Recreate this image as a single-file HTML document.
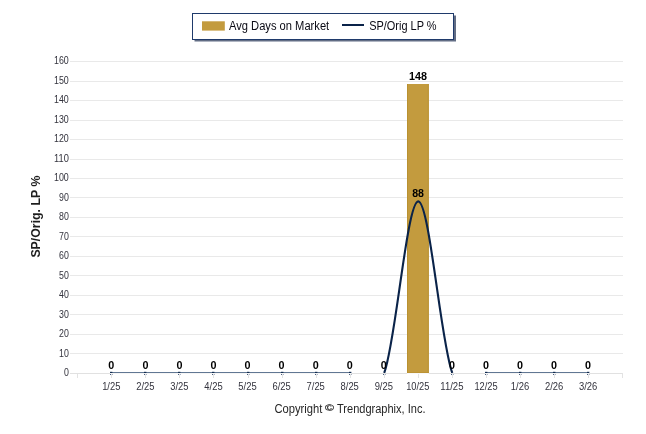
<!DOCTYPE html>
<html><head><meta charset="utf-8"><title>Chart</title>
<style>
html,body{margin:0;padding:0;background:#fff;}
body{width:646px;height:434px;overflow:hidden;}
svg{display:block;font-family:"Liberation Sans",sans-serif;}
.yl{font-size:10.6px;fill:#33333d;text-anchor:end;}
.xl{font-size:11px;fill:#33333d;text-anchor:middle;}
.dl{font-size:11px;font-weight:bold;fill:#000;text-anchor:middle;}
.lg{font-size:12px;fill:#0a0a14;}
</style></head><body>
<svg width="646" height="434" viewBox="0 0 646 434">
<defs><clipPath id="pc"><rect x="70" y="50" width="553" height="323"/></clipPath>
<filter id="sh" x="-5%" y="-20%" width="110%" height="150%"><feGaussianBlur stdDeviation="0.7"/></filter></defs>
<rect width="646" height="434" fill="#fff"/>

<rect x="70" y="373" width="553" height="1" fill="#e1e1e1"/>
<text class="yl" x="68.8" y="376" textLength="4.9" lengthAdjust="spacingAndGlyphs">0</text>
<rect x="70" y="353" width="553" height="1" fill="#e9e9e9"/>
<text class="yl" x="68.8" y="357" textLength="9.8" lengthAdjust="spacingAndGlyphs">10</text>
<rect x="70" y="334" width="553" height="1" fill="#e9e9e9"/>
<text class="yl" x="68.8" y="337" textLength="9.8" lengthAdjust="spacingAndGlyphs">20</text>
<rect x="70" y="314" width="553" height="1" fill="#e9e9e9"/>
<text class="yl" x="68.8" y="318" textLength="9.8" lengthAdjust="spacingAndGlyphs">30</text>
<rect x="70" y="295" width="553" height="1" fill="#e9e9e9"/>
<text class="yl" x="68.8" y="298" textLength="9.8" lengthAdjust="spacingAndGlyphs">40</text>
<rect x="70" y="275" width="553" height="1" fill="#e9e9e9"/>
<text class="yl" x="68.8" y="279" textLength="9.8" lengthAdjust="spacingAndGlyphs">50</text>
<rect x="70" y="256" width="553" height="1" fill="#e9e9e9"/>
<text class="yl" x="68.8" y="259" textLength="9.8" lengthAdjust="spacingAndGlyphs">60</text>
<rect x="70" y="236" width="553" height="1" fill="#e9e9e9"/>
<text class="yl" x="68.8" y="240" textLength="9.8" lengthAdjust="spacingAndGlyphs">70</text>
<rect x="70" y="217" width="553" height="1" fill="#e9e9e9"/>
<text class="yl" x="68.8" y="220" textLength="9.8" lengthAdjust="spacingAndGlyphs">80</text>
<rect x="70" y="197" width="553" height="1" fill="#e9e9e9"/>
<text class="yl" x="68.8" y="201" textLength="9.8" lengthAdjust="spacingAndGlyphs">90</text>
<rect x="70" y="178" width="553" height="1" fill="#e9e9e9"/>
<text class="yl" x="68.8" y="181" textLength="14.8" lengthAdjust="spacingAndGlyphs">100</text>
<rect x="70" y="159" width="553" height="1" fill="#e9e9e9"/>
<text class="yl" x="68.8" y="162" textLength="14.8" lengthAdjust="spacingAndGlyphs">110</text>
<rect x="70" y="139" width="553" height="1" fill="#e9e9e9"/>
<text class="yl" x="68.8" y="142" textLength="14.8" lengthAdjust="spacingAndGlyphs">120</text>
<rect x="70" y="120" width="553" height="1" fill="#e9e9e9"/>
<text class="yl" x="68.8" y="123" textLength="14.8" lengthAdjust="spacingAndGlyphs">130</text>
<rect x="70" y="100" width="553" height="1" fill="#e9e9e9"/>
<text class="yl" x="68.8" y="103" textLength="14.8" lengthAdjust="spacingAndGlyphs">140</text>
<rect x="70" y="81" width="553" height="1" fill="#e9e9e9"/>
<text class="yl" x="68.8" y="84" textLength="14.8" lengthAdjust="spacingAndGlyphs">150</text>
<rect x="70" y="61" width="553" height="1" fill="#e9e9e9"/>
<text class="yl" x="68.8" y="64" textLength="14.8" lengthAdjust="spacingAndGlyphs">160</text>
<rect x="77" y="374" width="1" height="4" fill="#e3e3e3"/>
<rect x="111" y="374" width="1" height="4" fill="#e3e3e3"/>
<rect x="145" y="374" width="1" height="4" fill="#e3e3e3"/>
<rect x="179" y="374" width="1" height="4" fill="#e3e3e3"/>
<rect x="213" y="374" width="1" height="4" fill="#e3e3e3"/>
<rect x="248" y="374" width="1" height="4" fill="#e3e3e3"/>
<rect x="282" y="374" width="1" height="4" fill="#e3e3e3"/>
<rect x="316" y="374" width="1" height="4" fill="#e3e3e3"/>
<rect x="350" y="374" width="1" height="4" fill="#e3e3e3"/>
<rect x="384" y="374" width="1" height="4" fill="#e3e3e3"/>
<rect x="418" y="374" width="1" height="4" fill="#e3e3e3"/>
<rect x="452" y="374" width="1" height="4" fill="#e3e3e3"/>
<rect x="486" y="374" width="1" height="4" fill="#e3e3e3"/>
<rect x="520" y="374" width="1" height="4" fill="#e3e3e3"/>
<rect x="554" y="374" width="1" height="4" fill="#e3e3e3"/>
<rect x="588" y="374" width="1" height="4" fill="#e3e3e3"/>
<rect x="622" y="374" width="1" height="4" fill="#e3e3e3"/>
<rect x="622" y="373" width="1" height="5" fill="#e3e3e3"/>
<rect x="407" y="84" width="21.8" height="289" fill="#c39b3e"/>
<rect x="407" y="84" width="1" height="289" fill="#b78e2e" opacity="0.8"/>
<rect x="407" y="373" width="21.8" height="1" fill="#f8f8f8"/>
<rect x="407" y="372" width="21.8" height="1" fill="#b78e2e" opacity="0.6"/>
<rect x="427.8" y="84" width="1" height="289" fill="#b78e2e" opacity="0.8"/>
<rect x="110" y="373" width="241" height="1" fill="#f6f6f6"/>
<rect x="110" y="372" width="241" height="1" fill="#617793"/>
<rect x="485" y="373" width="104" height="1" fill="#f6f6f6"/>
<rect x="485" y="372" width="104" height="1" fill="#617793"/>
<rect x="110" y="371.8" width="2.4" height="1.2" fill="#0a2349" opacity="0.9"/>
<rect x="144" y="371.8" width="2.4" height="1.2" fill="#0a2349" opacity="0.9"/>
<rect x="178" y="371.8" width="2.4" height="1.2" fill="#0a2349" opacity="0.9"/>
<rect x="212" y="371.8" width="2.4" height="1.2" fill="#0a2349" opacity="0.9"/>
<rect x="247" y="371.8" width="2.4" height="1.2" fill="#0a2349" opacity="0.9"/>
<rect x="281" y="371.8" width="2.4" height="1.2" fill="#0a2349" opacity="0.9"/>
<rect x="315" y="371.8" width="2.4" height="1.2" fill="#0a2349" opacity="0.9"/>
<rect x="349" y="371.8" width="2.4" height="1.2" fill="#0a2349" opacity="0.9"/>
<rect x="485" y="371.8" width="2.4" height="1.2" fill="#0a2349" opacity="0.9"/>
<rect x="519" y="371.8" width="2.4" height="1.2" fill="#0a2349" opacity="0.9"/>
<rect x="553" y="371.8" width="2.4" height="1.2" fill="#0a2349" opacity="0.9"/>
<rect x="587" y="371.8" width="2.4" height="1.2" fill="#0a2349" opacity="0.9"/>
<rect x="110" y="374" width="1" height="1" fill="#4a5f80"/>
<rect x="112" y="374" width="1" height="1" fill="#aab4c4"/>
<rect x="144" y="374" width="1" height="1" fill="#4a5f80"/>
<rect x="146" y="374" width="1" height="1" fill="#aab4c4"/>
<rect x="178" y="374" width="1" height="1" fill="#4a5f80"/>
<rect x="180" y="374" width="1" height="1" fill="#aab4c4"/>
<rect x="212" y="374" width="1" height="1" fill="#4a5f80"/>
<rect x="214" y="374" width="1" height="1" fill="#aab4c4"/>
<rect x="247" y="374" width="1" height="1" fill="#4a5f80"/>
<rect x="249" y="374" width="1" height="1" fill="#aab4c4"/>
<rect x="281" y="374" width="1" height="1" fill="#4a5f80"/>
<rect x="283" y="374" width="1" height="1" fill="#aab4c4"/>
<rect x="315" y="374" width="1" height="1" fill="#4a5f80"/>
<rect x="317" y="374" width="1" height="1" fill="#aab4c4"/>
<rect x="349" y="374" width="1" height="1" fill="#4a5f80"/>
<rect x="351" y="374" width="1" height="1" fill="#aab4c4"/>
<rect x="383" y="374" width="1" height="1" fill="#4a5f80"/>
<rect x="385" y="374" width="1" height="1" fill="#aab4c4"/>
<rect x="451" y="374" width="1" height="1" fill="#4a5f80"/>
<rect x="453" y="374" width="1" height="1" fill="#aab4c4"/>
<rect x="485" y="374" width="1" height="1" fill="#4a5f80"/>
<rect x="487" y="374" width="1" height="1" fill="#aab4c4"/>
<rect x="519" y="374" width="1" height="1" fill="#4a5f80"/>
<rect x="521" y="374" width="1" height="1" fill="#aab4c4"/>
<rect x="553" y="374" width="1" height="1" fill="#4a5f80"/>
<rect x="555" y="374" width="1" height="1" fill="#aab4c4"/>
<rect x="587" y="374" width="1" height="1" fill="#4a5f80"/>
<rect x="589" y="374" width="1" height="1" fill="#aab4c4"/>
<path d="M383.78,373.00 C395.13,344.40 406.49,201.40 417.84,201.40 C429.19,201.40 440.55,344.40 451.90,373.00" fill="none" stroke="#0a2349" stroke-width="2.1" transform="translate(0.4,0)" clip-path="url(#pc)"/>
<text class="dl" x="111.3" y="369" textLength="6" lengthAdjust="spacingAndGlyphs">0</text>
<text class="dl" x="145.4" y="369" textLength="6" lengthAdjust="spacingAndGlyphs">0</text>
<text class="dl" x="179.4" y="369" textLength="6" lengthAdjust="spacingAndGlyphs">0</text>
<text class="dl" x="213.5" y="369" textLength="6" lengthAdjust="spacingAndGlyphs">0</text>
<text class="dl" x="247.5" y="369" textLength="6" lengthAdjust="spacingAndGlyphs">0</text>
<text class="dl" x="281.6" y="369" textLength="6" lengthAdjust="spacingAndGlyphs">0</text>
<text class="dl" x="315.7" y="369" textLength="6" lengthAdjust="spacingAndGlyphs">0</text>
<text class="dl" x="349.7" y="369" textLength="6" lengthAdjust="spacingAndGlyphs">0</text>
<text class="dl" x="383.8" y="369" textLength="6" lengthAdjust="spacingAndGlyphs">0</text>
<text class="dl" x="451.9" y="369" textLength="6" lengthAdjust="spacingAndGlyphs">0</text>
<text class="dl" x="486.0" y="369" textLength="6" lengthAdjust="spacingAndGlyphs">0</text>
<text class="dl" x="520.0" y="369" textLength="6" lengthAdjust="spacingAndGlyphs">0</text>
<text class="dl" x="554.1" y="369" textLength="6" lengthAdjust="spacingAndGlyphs">0</text>
<text class="dl" x="588.1" y="369" textLength="6" lengthAdjust="spacingAndGlyphs">0</text>
<text class="dl" x="418.1" y="80" textLength="18" lengthAdjust="spacingAndGlyphs">148</text>
<text class="dl" x="418.1" y="197" textLength="11.8" lengthAdjust="spacingAndGlyphs">88</text>
<text class="xl" x="111.3" y="390" textLength="18.3" lengthAdjust="spacingAndGlyphs">1/25</text>
<text class="xl" x="145.4" y="390" textLength="18.3" lengthAdjust="spacingAndGlyphs">2/25</text>
<text class="xl" x="179.4" y="390" textLength="18.3" lengthAdjust="spacingAndGlyphs">3/25</text>
<text class="xl" x="213.5" y="390" textLength="18.3" lengthAdjust="spacingAndGlyphs">4/25</text>
<text class="xl" x="247.5" y="390" textLength="18.3" lengthAdjust="spacingAndGlyphs">5/25</text>
<text class="xl" x="281.6" y="390" textLength="18.3" lengthAdjust="spacingAndGlyphs">6/25</text>
<text class="xl" x="315.7" y="390" textLength="18.3" lengthAdjust="spacingAndGlyphs">7/25</text>
<text class="xl" x="349.7" y="390" textLength="18.3" lengthAdjust="spacingAndGlyphs">8/25</text>
<text class="xl" x="383.8" y="390" textLength="18.3" lengthAdjust="spacingAndGlyphs">9/25</text>
<text class="xl" x="417.8" y="390" textLength="23.2" lengthAdjust="spacingAndGlyphs">10/25</text>
<text class="xl" x="451.9" y="390" textLength="23.2" lengthAdjust="spacingAndGlyphs">11/25</text>
<text class="xl" x="486.0" y="390" textLength="23.2" lengthAdjust="spacingAndGlyphs">12/25</text>
<text class="xl" x="520.0" y="390" textLength="18.3" lengthAdjust="spacingAndGlyphs">1/26</text>
<text class="xl" x="554.1" y="390" textLength="18.3" lengthAdjust="spacingAndGlyphs">2/26</text>
<text class="xl" x="588.1" y="390" textLength="18.3" lengthAdjust="spacingAndGlyphs">3/26</text>
<text transform="translate(40.4,216.6) rotate(-90)" text-anchor="middle" font-size="13" font-weight="bold" fill="#1e1e1e" textLength="82" lengthAdjust="spacingAndGlyphs">SP/Orig. LP %</text>
<rect x="194.5" y="15.5" width="261.5" height="26" fill="#3a4966" opacity="0.8" filter="url(#sh)"/>
<rect x="192.5" y="13.5" width="261" height="26" fill="#fff" stroke="#1f3a6b" stroke-width="1"/>
<rect x="202" y="21.3" width="22.8" height="9.3" fill="#c39b3e"/>
<text class="lg" x="229" y="30" textLength="100.2" lengthAdjust="spacingAndGlyphs">Avg Days on Market</text>
<rect x="342" y="24" width="22" height="2" fill="#0a2349"/>
<text class="lg" x="369.2" y="30" textLength="67.4" lengthAdjust="spacingAndGlyphs">SP/Orig LP %</text>
<text x="274.4" y="413" font-size="12" fill="#262626" textLength="47.9" lengthAdjust="spacingAndGlyphs">Copyright</text>
<text transform="translate(324.9,411) scale(1.33,1)" font-size="9.2" fill="#262626" stroke="#262626" stroke-width="0.2">©</text>
<text x="337" y="413" font-size="12" fill="#262626" textLength="88.5" lengthAdjust="spacingAndGlyphs">Trendgraphix, Inc.</text>
</svg></body></html>
